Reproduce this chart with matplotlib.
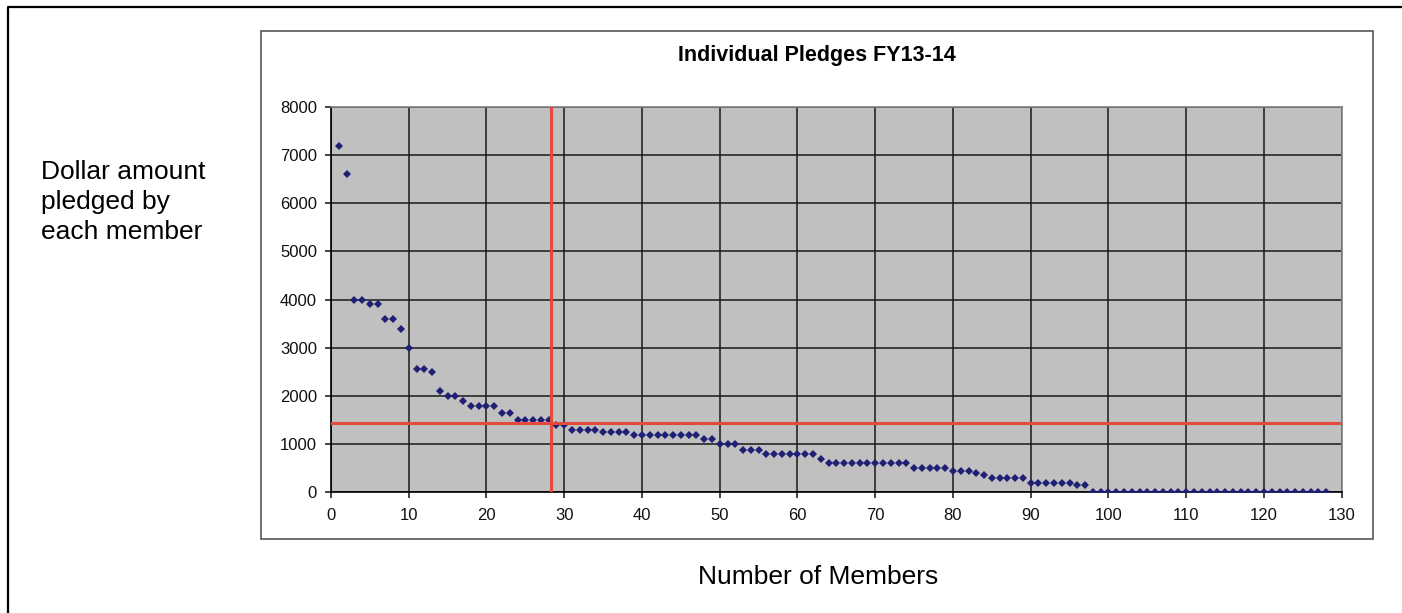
import matplotlib.pyplot as plt
from matplotlib.patches import Rectangle
from matplotlib.lines import Line2D

plt.rcParams['font.family'] = ['Liberation Sans', 'DejaVu Sans']

# pledge per member, sorted high to low
members = list(range(1, 129))
pledges = ([7200, 6600, 4000, 4000, 3900, 3900, 3600, 3600, 3400, 3000,
            2550, 2550, 2500, 2100, 2000, 2000, 1900]
           + [1800] * 4 + [1650] * 2 + [1500] * 5 + [1400] * 2
           + [1300] * 4 + [1250] * 4 + [1200] * 9 + [1100] * 2
           + [1000] * 3 + [875] * 3 + [800] * 7 + [700] + [600] * 11
           + [500] * 5 + [450] * 3 + [400] + [350] + [300] * 5
           + [200] * 6 + [150] * 2 + [0] * 31)

ref_member = 28.3
ref_pledge = 1435

x_ticks = list(range(0, 131, 10))
y_ticks = list(range(0, 8001, 1000))

title = 'Individual Pledges FY13-14'
y_label = 'Dollar amount\npledged by\neach member'
x_label = 'Number of Members'

W, H = 1402, 613
fig = plt.figure(figsize=(W / 100, H / 100), dpi=100)


def fx(px):
    return px / W


def fy(py):
    return 1 - py / H


# outer frame (top and left edges only)
fig.add_artist(Line2D([fx(8), fx(8), fx(W)], [0, fy(7), fy(7)],
                      color='black', lw=1.6, transform=fig.transFigure))
# chart box
fig.add_artist(Rectangle((fx(261), fy(539)), fx(1373) - fx(261), fy(31) - fy(539),
                         transform=fig.transFigure, fill=False,
                         edgecolor='#555555', lw=1.2))

ax = fig.add_axes([fx(331), fy(492.3), fx(1341.7) - fx(331), fy(107) - fy(492.3)])
ax.set_facecolor('#C0C0C0')
ax.set_xlim(0, 130)
ax.set_ylim(0, 8000)
ax.set_xticks(x_ticks)
ax.set_yticks(y_ticks)
ax.grid(True, color='#1a1a1a', lw=1.1)
ax.set_axisbelow(True)
ax.tick_params(direction='out', length=4, width=1.1, labelsize=12, colors='#111111')
ax.tick_params(axis='x', pad=7)
ax.tick_params(axis='y', pad=6)
for side in ['top', 'right']:
    ax.spines[side].set_color('#808080')
    ax.spines[side].set_linewidth(1.2)
for side in ['left', 'bottom']:
    ax.spines[side].set_color('black')
    ax.spines[side].set_linewidth(1.2)

ax.plot(members, pledges, linestyle='none', marker='D', markersize=4.2,
        color='#1f1f75', markeredgewidth=0, zorder=3)
ax.axvline(ref_member, color='#e5483d', lw=2.2, zorder=4)
ax.axhline(ref_pledge, color='#e5483d', lw=2.2, zorder=4)

fig.text(fx(817), fy(55), title, ha='center', va='center',
         fontsize=15.5, fontweight='bold')
fig.text(fx(41), fy(202), y_label, ha='left', va='center',
         fontsize=19, linespacing=1.3)
fig.text(fx(818), fy(577), x_label, ha='center', va='center', fontsize=19)

fig.savefig('out.png', dpi=100)
